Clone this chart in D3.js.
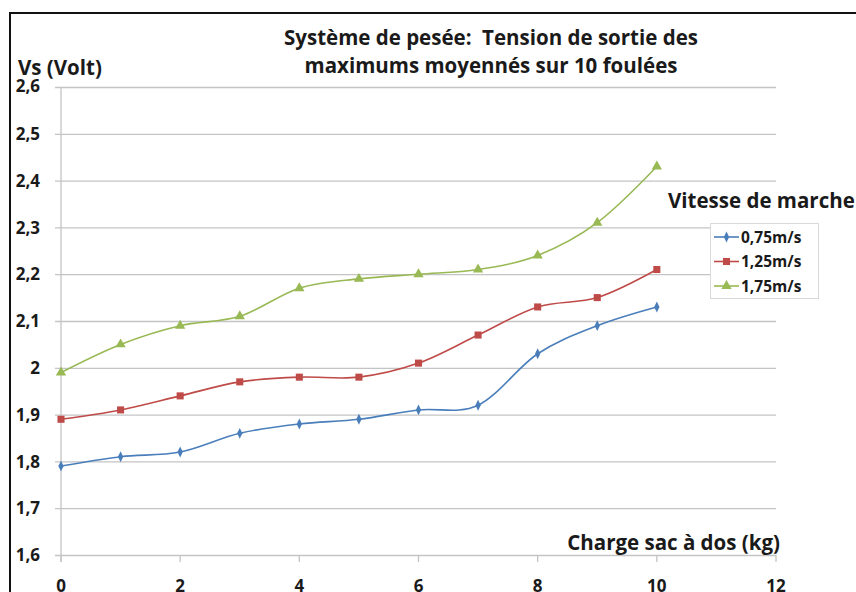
<!DOCTYPE html>
<html>
<head>
<meta charset="utf-8">
<script src="https://cdn.jsdelivr.net/npm/d3@7"></script>
<style>
  html, body { margin: 0; padding: 0; background: #fff; }
  svg { display: block; }
  text { font-family: "Open Sans", Lato, sans-serif; font-weight: bold; fill: #1a1a1a; }
</style>
</head>
<body>
<script>
// Charge du sac à dos (kg)
const charges = [0, 1, 2, 3, 4, 5, 6, 7, 8, 9, 10];
// Tension de sortie (V) pour chaque vitesse de marche
const v075 = [1.79, 1.81, 1.82, 1.86, 1.88, 1.89, 1.91, 1.92, 2.03, 2.09, 2.13];
const v125 = [1.89, 1.91, 1.94, 1.97, 1.98, 1.98, 2.01, 2.07, 2.13, 2.15, 2.21];
const v175 = [1.99, 2.05, 2.09, 2.11, 2.17, 2.19, 2.20, 2.21, 2.24, 2.31, 2.43];
const seriesNames = ["0,75m/s", "1,25m/s", "1,75m/s"];
const xTicks = [0, 2, 4, 6, 8, 10, 12];
const yTicks = [1.6, 1.7, 1.8, 1.9, 2.0, 2.1, 2.2, 2.3, 2.4, 2.5, 2.6];

const W = 856, H = 592;
const colors = ["#4A7EBB", "#BE4B48", "#98B954"];
const symbols = [d3.symbolDiamond, d3.symbolSquare, d3.symbolTriangle];
const symSizes = [34, 50, 46];

const svg = d3.select("body").append("svg").attr("width", W).attr("height", H);

// Cadre du graphique
svg.append("path")
  .attr("d", `M10,${H + 5} L10,13 L${W + 5},13`)
  .attr("fill", "none").attr("stroke", "#111").attr("stroke-width", 2);

const x = d3.scaleLinear().domain([0, 12]).range([61, 776]);
const y = d3.scaleLinear().domain([1.6, 2.6]).range([555, 87]);
const fmt = v => d3.format(".1f")(v).replace(".0", "").replace(".", ",");

// Grille horizontale et graduations Y
const gy = svg.append("g");
gy.selectAll("line").data(yTicks).join("line")
  .attr("x1", 55).attr("x2", x(12))
  .attr("y1", d => y(d) + 0.5).attr("y2", d => y(d) + 0.5)
  .attr("stroke", "#c4c4c4").attr("stroke-width", 1.3);
gy.selectAll("text").data(yTicks).join("text")
  .attr("x", 40).attr("y", d => y(d) + (d === 2.6 ? -1 : 0))
  .attr("dy", "0.36em").attr("text-anchor", "end")
  .attr("font-size", 17).text(fmt);

// Axe vertical
svg.append("line")
  .attr("x1", x(0)).attr("x2", x(0)).attr("y1", y(2.6)).attr("y2", y(1.6) + 7)
  .attr("stroke", "#c4c4c4").attr("stroke-width", 1.3);

// Graduations X
const gx = svg.append("g");
gx.selectAll("line").data(xTicks).join("line")
  .attr("x1", d => x(d)).attr("x2", d => x(d))
  .attr("y1", y(1.6)).attr("y2", y(1.6) + 7)
  .attr("stroke", "#c4c4c4").attr("stroke-width", 1.3);
gx.selectAll("text").data(xTicks).join("text")
  .attr("x", d => x(d)).attr("y", 592)
  .attr("text-anchor", "middle").attr("font-size", 17).text(d => d);

// Courbes lissées
const series = [v075, v125, v175];
const line = d3.line()
  .x((d, i) => x(charges[i])).y(d => y(d))
  .curve(d3.curveCardinal.tension(0));

series.forEach((vals, s) => {
  svg.append("path").datum(vals)
    .attr("d", line).attr("fill", "none")
    .attr("stroke", colors[s]).attr("stroke-width", 1.6);
  svg.append("g").selectAll("path").data(vals).join("path")
    .attr("transform", (d, i) => `translate(${x(charges[i])},${y(d)})` + (s === 0 ? " scale(0.85,1)" : ""))
    .attr("d", d3.symbol().type(symbols[s]).size(symSizes[s]))
    .attr("fill", colors[s]);
});

// Titres
svg.append("text").attr("x", 491).attr("y", 45).attr("text-anchor", "middle")
  .attr("font-size", 20.5).attr("xml:space", "preserve")
  .text("Système de pesée:  Tension de sortie des");
svg.append("text").attr("x", 491).attr("y", 73).attr("text-anchor", "middle")
  .attr("font-size", 20.5).text("maximums moyennés sur 10 foulées");
svg.append("text").attr("x", 18).attr("y", 75).attr("font-size", 20.5).text("Vs (Volt)");
svg.append("text").attr("x", 780).attr("y", 550).attr("text-anchor", "end")
  .attr("font-size", 20.5).text("Charge sac à dos (kg)");

// Légende
svg.append("text").attr("x", 668).attr("y", 208).attr("font-size", 20.5).text("Vitesse de marche");
const lg = svg.append("g");
lg.append("rect").attr("x", 710.5).attr("y", 223.5).attr("width", 108).attr("height", 75)
  .attr("fill", "#fff").attr("stroke", "#d9d9d9");
seriesNames.forEach((name, s) => {
  const ly = 237 + s * 24.5;
  lg.append("line").attr("x1", 714).attr("x2", 739).attr("y1", ly).attr("y2", ly)
    .attr("stroke", colors[s]).attr("stroke-width", 1.6);
  lg.append("path").attr("transform", `translate(726.5,${ly})` + (s === 0 ? " scale(0.85,1)" : ""))
    .attr("d", d3.symbol().type(symbols[s]).size(symSizes[s])).attr("fill", colors[s]);
  lg.append("text").attr("x", 741).attr("y", ly).attr("dy", "0.36em")
    .attr("font-size", 15.5).text(name);
});
</script>
</body>
</html>
